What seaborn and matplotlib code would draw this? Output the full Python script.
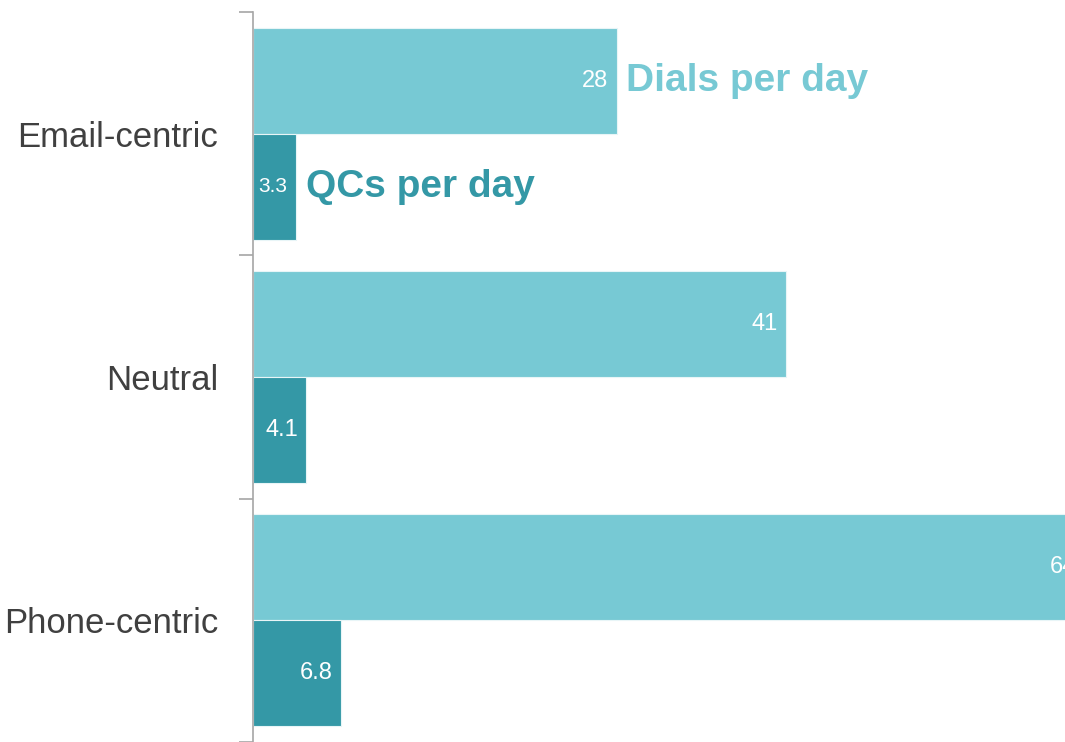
import matplotlib
matplotlib.use("Agg")
import matplotlib.pyplot as plt
import seaborn as sns
import pandas as pd

# data
categories = ["Email-centric", "Neutral", "Phone-centric"]
dials_per_day = [28, 41, 64]
qcs_per_day = [3.3, 4.1, 6.8]
series_names = ["Dials per day", "QCs per day"]

light = "#77C9D4"
dark = "#3498A6"

sns.set_theme(style="white")
plt.rcParams["font.family"] = ["Liberation Sans", "DejaVu Sans"]

df = pd.DataFrame({
    "category": categories * 2,
    "value": dials_per_day + qcs_per_day,
    "metric": [series_names[0]] * 3 + [series_names[1]] * 3,
})

fig = plt.figure(figsize=(10.65, 7.42), dpi=100)
ax = fig.add_axes([253 / 1065, 0.0, 1 - 253 / 1065, 730 / 742])

sns.barplot(data=df, x="value", y="category", hue="metric",
            order=categories, hue_order=series_names,
            palette=[light, dark], saturation=1, width=0.87, dodge=True,
            edgecolor="#e8f5f7", linewidth=0.8, legend=False, ax=ax)

ax.set_xlim(0, 62.5)
ax.set_ylim(2.5, -0.5)
ax.set_xlabel("")
ax.set_ylabel("")
ax.set_xticks([])

# category labels, separator ticks between groups
ax.set_yticks(range(len(categories)))
ax.set_yticklabels(categories, fontsize=25, color="#404040")
ax.tick_params(axis="y", which="major", length=0, pad=25)
ax.set_yticks([-0.5, 0.5, 1.5, 2.5], minor=True)
ax.tick_params(axis="y", which="minor", length=10, width=1.2, color="#A6A6A6", left=True)

for side in ["top", "right", "bottom"]:
    ax.spines[side].set_visible(False)
ax.spines["left"].set_color("#A6A6A6")
ax.spines["left"].set_linewidth(1.2)

# value labels inside the bar ends
for container in ax.containers:
    for bar, val in zip(container, container.datavalues):
        y = bar.get_y() + bar.get_height() / 2
        size = 15 if val < 4 else 17
        ax.annotate(f"{val:g}", (bar.get_width(), y), xytext=(-6, 0),
                    textcoords="offset points", ha="right", va="center",
                    color="white", fontsize=size, annotation_clip=False)

# series names next to the first group's bars
for container, name, col in zip(ax.containers, series_names, [light, dark]):
    bar = container[0]
    y = bar.get_y() + bar.get_height() / 2
    ax.annotate(name, (bar.get_width(), y), xytext=(7, 0),
                textcoords="offset points", ha="left", va="center",
                color=col, fontsize=28, fontweight="bold")

fig.savefig("out.png", dpi=100)
